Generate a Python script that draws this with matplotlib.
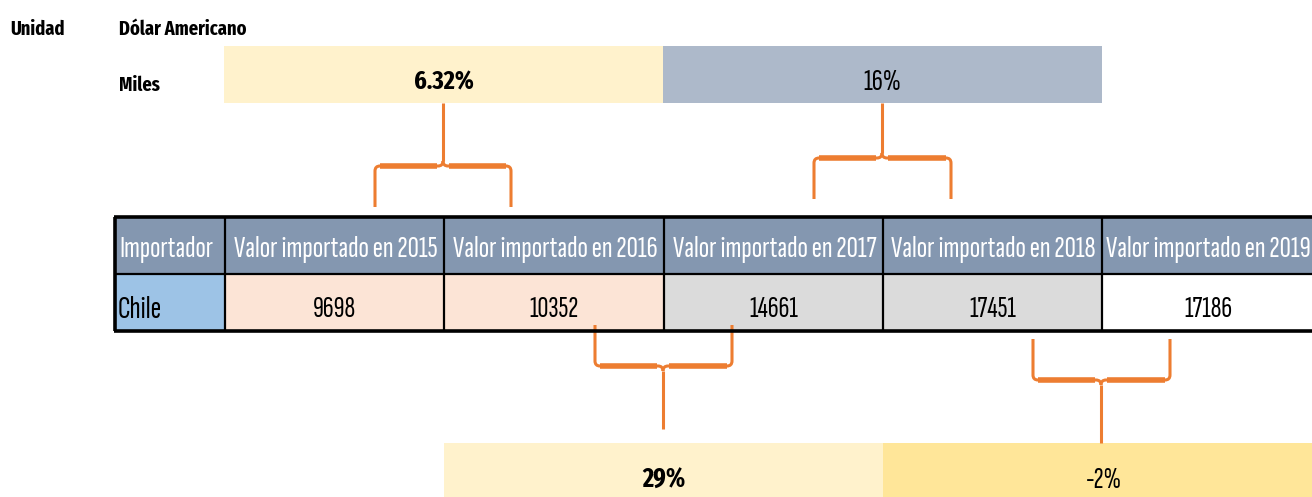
import matplotlib
matplotlib.use("Agg")
import matplotlib.pyplot as plt
from matplotlib.patches import Rectangle, PathPatch
from matplotlib.path import Path
from matplotlib.textpath import TextPath
from matplotlib.font_manager import FontProperties
from matplotlib import font_manager

# ---------------- data ----------------
importer = "Chile"
years = [2015, 2016, 2017, 2018, 2019]
values = [9698, 10352, 14661, 17451, 17186]
first_header = "Importador"
header_labels = [f"Valor importado en {y}" for y in years]
top_changes = ["6.32%", "16%"]       # 2015->2016, 2017->2018
bottom_changes = ["29%", "-2%"]      # 2016->2017, 2018->2019
unit_label = "Unidad"
unit_value = "Dólar Americano"
scale_label = "Miles"

# ---------------- fonts ----------------
flist = font_manager.fontManager.ttflist
names = {f.name for f in flist}


def pick(cands, need_bold=False):
    for c in cands:
        if c in names:
            if not need_bold:
                return c
            if any(f.name == c and (f.weight in ("bold", 700, 600, "semibold", "demibold")
                                    or (isinstance(f.weight, int) and f.weight >= 600)) for f in flist):
                return c
    return "DejaVu Sans"


FONT = pick(["Sofia Sans Extra Condensed", "Fira Sans Extra Condensed", "Roboto Condensed"])
BFONT = pick(["Sofia Sans Extra Condensed", "Fira Sans Extra Condensed", "Roboto Condensed"], True)
plt.rcParams["font.family"] = [FONT, "DejaVu Sans"]

W, H = 1312, 497
fig = plt.figure(figsize=(W / 100, H / 100), dpi=100)
ax = fig.add_axes([0, 0, 1, 1])
ax.set_xlim(0, W)
ax.set_ylim(H, 0)
ax.axis("off")
renderer = fig.canvas.get_renderer()


def fit_w(s, target_w, family=None, weight="normal"):
    t = ax.text(0, 0, s, fontsize=20, fontweight=weight, family=[family or FONT, "DejaVu Sans"])
    w = t.get_window_extent(renderer).width
    t.remove()
    return 20 * target_w / w


def fit_h(s, target_h, family=None, weight="normal"):
    tp = TextPath((0, 0), s, size=20, prop=FontProperties(family=family or FONT, weight=weight))
    ext = tp.get_extents()
    ink = ext.y1 * 100 / 72  # px above baseline at 20 pt
    return 20 * target_h / ink


ORANGE = "#ED7D31"

# ---------------- table geometry ----------------
col_edges = [115, 225, 444, 664, 883, 1102, 1325]
y_top, y_mid, y_bot = 217, 274, 331

hdr_size = fit_w(header_labels[0], 204)
imp_size = fit_w(first_header, 94)
val_size = min(fit_h(str(values[0]), 20), fit_w(str(values[0]), 46))
chile_size = min(fit_h(importer, 24), fit_w(importer, 44))

# header row
for i in range(6):
    x0, x1 = col_edges[i], col_edges[i + 1]
    ax.add_patch(Rectangle((x0, y_top), x1 - x0, y_mid - y_top, facecolor="#8497B0",
                           edgecolor="none", zorder=1))
    if i == 0:
        ax.text(x0 + 4, 257, first_header, ha="left", va="baseline", color="white",
                fontsize=imp_size, zorder=5)
    else:
        ax.text((x0 + x1) / 2 + (1 if i < 5 else -5), 257, header_labels[i - 1], ha="center",
                va="baseline", color="white", fontsize=hdr_size, zorder=5)

# data row
data_colors = ["#9DC3E6", "#FCE4D6", "#FCE4D6", "#DBDBDB", "#DBDBDB", "#FFFFFF"]
for i in range(6):
    x0, x1 = col_edges[i], col_edges[i + 1]
    ax.add_patch(Rectangle((x0, y_mid), x1 - x0, y_bot - y_mid, facecolor=data_colors[i],
                           edgecolor="none", zorder=1))
    if i == 0:
        ax.text(x0 + 3, 318, importer, ha="left", va="baseline", fontsize=chile_size,
                color="black", zorder=5)
    else:
        ax.text((x0 + x1) / 2 + (0 if i < 5 else -5), 317, str(values[i - 1]), ha="center",
                va="baseline", fontsize=val_size, color="black", zorder=5)

# grid lines (drawn over braces)
kw = dict(color="black", solid_capstyle="butt", zorder=4)
ax.plot([col_edges[0] - 1, W], [y_top, y_top], lw=2.6, **kw)
ax.plot([col_edges[0], W], [y_mid, y_mid], lw=1.6, **kw)
ax.plot([col_edges[0] - 1, W], [y_bot, y_bot], lw=2.6, **kw)
ax.plot([col_edges[0], col_edges[0]], [y_top, y_bot], lw=2.6, **kw)
for x in col_edges[1:-1]:
    ax.plot([x, x], [y_top, y_bot], lw=1.6, **kw)


def band_text(x, y, lab, wt, h_target, w_max):
    fam = BFONT if wt == "bold" else FONT
    size = min(fit_h(lab, h_target, fam, wt), fit_w(lab, w_max, fam, wt))
    ax.text(x, y, lab, ha="center", va="baseline", fontsize=size, fontweight=wt,
            family=[fam, "DejaVu Sans"], color="black", zorder=5)


# ---------------- change bands ----------------
top_spans = [(224, 663), (663, 1102)]
top_colors = ["#FFF2CC", "#ADB9CA"]
top_weights = ["bold", "normal"]
top_widths = [60, 38]
top_base = [89, 90]
for (x0, x1), c, lab, wt, tw, yb in zip(top_spans, top_colors, top_changes, top_weights,
                                       top_widths, top_base):
    ax.add_patch(Rectangle((x0, 46), x1 - x0, 57, facecolor=c, edgecolor="none", zorder=1))
    band_text((x0 + x1) / 2, yb, lab, wt, 26, tw)

bot_spans = [(444, 883), (883, 1325)]
bot_colors = ["#FFF2CC", "#FFE699"]
bot_weights = ["bold", "normal"]
bot_widths = [43, 36]
for (x0, x1), c, lab, wt, tw in zip(bot_spans, bot_colors, bottom_changes, bot_weights, bot_widths):
    ax.add_patch(Rectangle((x0, 443), x1 - x0, 60, facecolor=c, edgecolor="none", zorder=1))
    band_text((x0 + x1) / 2, 488, lab, wt, 25, tw)

# ---------------- labels top-left ----------------
lab_size = min(fit_w(unit_value, 128, BFONT, "bold"), fit_h(unit_value, 19, BFONT, "bold"))
for x, y, s in ((10, 35, unit_label), (119, 35, unit_value), (119, 91, scale_label)):
    ax.text(x, y, s, ha="left", va="baseline", fontsize=lab_size, fontweight="bold",
            family=[BFONT, "DejaVu Sans"])


# ---------------- braces ----------------
def brace(xl, xr, xc, y_tip, y_bar, y_stem, r=5):
    sd = 1 if y_stem > y_bar else -1
    for x_end, sgn in ((xl, 1), (xr, -1)):
        verts = [(x_end, y_tip), (x_end, y_bar - sd * r), (x_end, y_bar), (x_end + sgn * r, y_bar),
                 (xc - sgn * r, y_bar), (xc, y_bar), (xc, y_bar + sd * r)]
        codes = [Path.MOVETO, Path.LINETO, Path.CURVE3, Path.CURVE3, Path.LINETO,
                 Path.CURVE3, Path.CURVE3]
        ax.add_patch(PathPatch(Path(verts, codes), fill=False, edgecolor=ORANGE, lw=2.2,
                               joinstyle="round", capstyle="butt", zorder=2))
        ax.plot([x_end + sgn * r, xc - sgn * (r + 1)], [y_bar, y_bar], color=ORANGE, lw=4.0,
                solid_capstyle="butt", zorder=2)
    ax.plot([xc, xc], [y_bar + sd * r, y_stem], color=ORANGE, lw=2.2, solid_capstyle="butt",
            zorder=2)


brace(375, 511, 443, 207, 166, 103)
brace(814, 951, 882, 199, 158, 103)
brace(595, 732, 663, 325, 366, 429)
brace(1033, 1170, 1101, 339, 380, 443)

fig.savefig("out.png", dpi=100)
